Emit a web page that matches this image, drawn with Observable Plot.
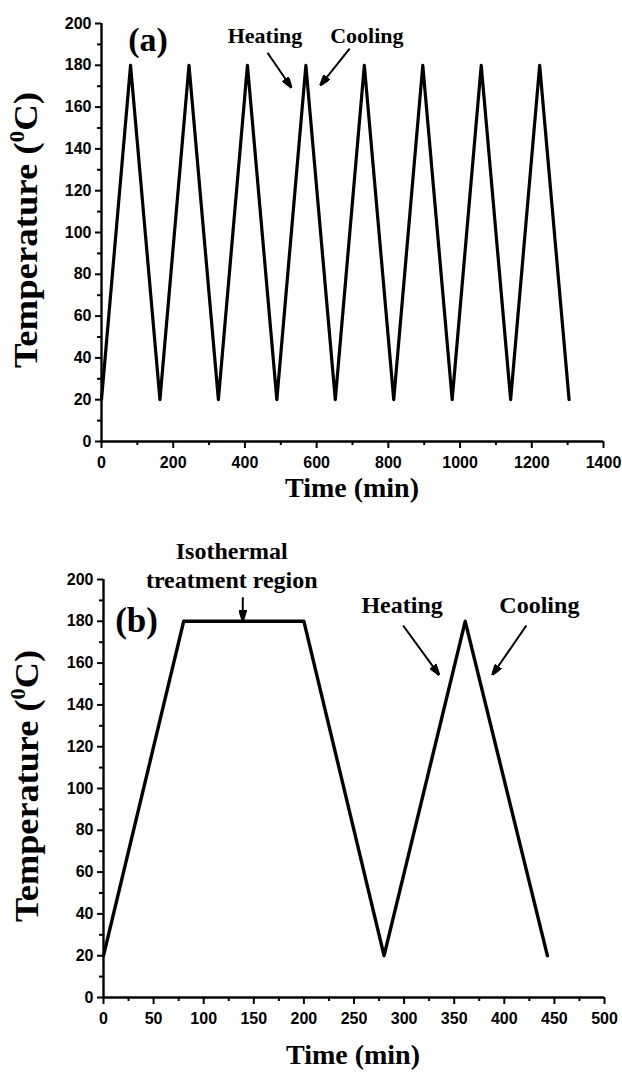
<!DOCTYPE html>
<html><head><meta charset="utf-8">
<script src="https://cdn.jsdelivr.net/npm/d3@7"></script>
<script src="https://cdn.jsdelivr.net/npm/@observablehq/plot@0.6"></script>
<style>
body{margin:0;background:#fff;}
#chart{width:622px;}
#chart svg{display:block;}
</style></head><body><div id="chart"></div>
<script>
// ---- data (a): repeated heating/cooling cycles ----
const timeA = [0, 81, 163, 244, 326, 407, 489, 570, 652, 733, 815, 896, 978, 1059, 1141, 1222, 1304];
const tempA = [20, 180, 20, 180, 20, 180, 20, 180, 20, 180, 20, 180, 20, 180, 20, 180, 20];
// ---- data (b): isothermal treatment then one cycle ----
const timeB = [0, 80, 200, 280, 361, 443];
const tempB = [20, 180, 180, 20, 180, 20];
// ---- ticks ----
const xTicksA = [0, 200, 400, 600, 800, 1000, 1200, 1400];
const xMinorA = [100, 300, 500, 700, 900, 1100, 1300];
const xTicksB = [0, 50, 100, 150, 200, 250, 300, 350, 400, 450, 500];
const xMinorB = [25, 75, 125, 175, 225, 275, 325, 375, 425, 475];
const yTicks = [0, 20, 40, 60, 80, 100, 120, 140, 160, 180, 200];
const yMinor = [10, 30, 50, 70, 90, 110, 130, 150, 170, 190];

const sans = "'Liberation Sans', Arial, Helvetica, sans-serif";
const serif = "'Liberation Serif', 'Times New Roman', Times, serif";

function filledHead(color) {
  const m = d3.create("svg:marker")
    .attr("viewBox", "0 -4 11 8")
    .attr("markerUnits", "userSpaceOnUse")
    .attr("markerWidth", 11).attr("markerHeight", 8)
    .attr("refX", 9).attr("refY", 0)
    .attr("orient", "auto");
  m.append("path").attr("d", "M0,-3.5L11,0L0,3.5Z").attr("fill", color);
  return m.node();
}

function label(text, x, y, size) {
  return Plot.text([text], {x, y, text: d => d, fontFamily: serif, fontWeight: "bold", fontSize: size, lineAnchor: "bottom", textAnchor: "middle", fill: "black"});
}

function axes(xTicks, xMinor) {
  return [
    Plot.axisX({ticks: xMinor, tickSize: 4, text: null, label: null, strokeWidth: 2}),
    Plot.axisX({ticks: xTicks, tickSize: 7, tickPadding: 8, label: null, strokeWidth: 2, tickFormat: d => String(d), fontSize: 16, fontWeight: "bold", fontFamily: sans}),
    Plot.axisY({ticks: yMinor, tickSize: 4, text: null, label: null, strokeWidth: 2}),
    Plot.axisY({ticks: yTicks, tickSize: 6, tickPadding: 4, label: null, strokeWidth: 2, tickFormat: d => String(d), fontSize: 16, fontWeight: "bold", fontFamily: sans}),
    Plot.ruleY([0], {strokeWidth: 2.4}),
    Plot.ruleX([0], {strokeWidth: 2.4})
  ];
}

function addTitles(svgNode, cfg) {
  const svg = d3.select(svgNode);
  svg.append("text")
    .attr("x", cfg.xc).attr("y", cfg.xTitleY)
    .attr("text-anchor", "middle")
    .style("font-family", serif).style("font-weight", "bold").style("font-size", cfg.xSize + "px")
    .text("Time (min)");
  const t = svg.append("text")
    .attr("transform", `translate(${cfg.yTitleX},${cfg.yc}) rotate(-90)`)
    .attr("text-anchor", "middle")
    .attr("textLength", cfg.yLen).attr("lengthAdjust", "spacingAndGlyphs")
    .style("font-family", serif).style("font-weight", "bold").style("font-size", cfg.ySize + "px");
  t.append("tspan").text("Temperature (");
  t.append("tspan").attr("dy", -cfg.ySize * 0.4).style("font-size", (cfg.ySize * 0.62) + "px").text("0");
  t.append("tspan").attr("dy", cfg.ySize * 0.4).text("C)");
}

const idxA = d3.range(timeA.length);
const idxB = d3.range(timeB.length);

function build(useMarker) {
  const arr = useMarker
    ? (x1, y1, x2, y2) => Plot.link([0], {x1, y1, x2, y2, stroke: "black", strokeWidth: 2, markerEnd: filledHead})
    : (x1, y1, x2, y2) => Plot.arrow([0], {x1, y1, x2, y2, stroke: "black", strokeWidth: 2, headLength: 9});
  const chartA = Plot.plot({
    width: 622, height: 520,
    marginLeft: 101, marginRight: 19, marginTop: 23, marginBottom: 79,
    x: {domain: [0, 1400]}, y: {domain: [0, 200]},
    style: {background: "white", color: "black", fontFamily: sans, overflow: "visible"},
    marks: [
      ...axes(xTicksA, xMinorA),
      Plot.line(idxA, {x: i => timeA[i], y: i => tempA[i], stroke: "black", strokeWidth: 3.2, strokeLinejoin: "round"}),
      label("(a)", 130, 187, 34),
      label("Heating", 456, 190.5, 22),
      label("Cooling", 740, 190.5, 22),
      arr(463, 186, 527, 170),
      arr(692, 188, 613, 171)
    ]
  });
  const chartB = Plot.plot({
    width: 622, height: 554,
    marginLeft: 103, marginRight: 18, marginTop: 59, marginBottom: 77,
    x: {domain: [0, 500]}, y: {domain: [0, 200]},
    style: {background: "white", color: "black", fontFamily: sans, overflow: "visible"},
    marks: [
      ...axes(xTicksB, xMinorB),
      Plot.line(idxB, {x: i => timeB[i], y: i => tempB[i], stroke: "black", strokeWidth: 3.4, strokeLinejoin: "round"}),
      label("(b)", 33, 175, 35),
      label("Isothermal", 128, 210, 24),
      label("treatment region", 128, 195.7, 24),
      arr(139, 191.5, 139, 181),
      label("Heating", 298, 184, 24),
      label("Cooling", 435, 184, 24),
      arr(299, 178, 334, 155),
      arr(422, 178, 389, 155)
    ]
  });
  return [chartA, chartB];
}

let charts;
try { charts = build(true); } catch (e) { charts = build(false); }
const root = document.getElementById("chart");
root.appendChild(charts[0]);
root.appendChild(charts[1]);
addTitles(charts[0], {xc: 352, xTitleY: 497, yTitleX: 37, yc: 230, xSize: 28, ySize: 33, yLen: 276});
addTitles(charts[1], {xc: 353, xTitleY: 544, yTitleX: 38, yc: 266, xSize: 28, ySize: 33, yLen: 272});
</script></body></html>
